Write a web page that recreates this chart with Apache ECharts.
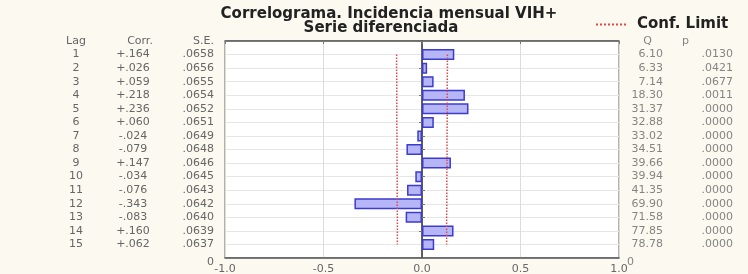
<!DOCTYPE html>
<html>
<head>
<meta charset="utf-8">
<script src="https://cdn.jsdelivr.net/npm/echarts@6/dist/echarts.min.js"></script>
<style>
  html, body { margin: 0; padding: 0; background: #fcf9f0; }
  #main { width: 748px; height: 274px; }
</style>
</head>
<body>
<div id="main"></div>
<script>
// datos del correlograma
var lags = ['1','2','3','4','5','6','7','8','9','10','11','12','13','14','15'];
var corr = [0.164, 0.026, 0.059, 0.218, 0.236, 0.060, -0.024, -0.079, 0.147, -0.034, -0.076, -0.343, -0.083, 0.160, 0.062];
var corrTxt = ['+.164','+.026','+.059','+.218','+.236','+.060','-.024','-.079','+.147','-.034','-.076','-.343','-.083','+.160','+.062'];
var seTxt = ['.0658','.0656','.0655','.0654','.0652','.0651','.0649','.0648','.0646','.0645','.0643','.0642','.0640','.0639','.0637'];
var qTxt = ['6.10','6.33','7.14','18.30','31.37','32.88','33.02','34.51','39.66','39.94','41.35','69.90','71.58','77.85','78.78'];
var pTxt = ['.0130','.0421','.0677','.0011','.0000','.0000','.0000','.0000','.0000','.0000','.0000','.0000','.0000','.0000','.0000'];
var limit = [0.129, 0.129, 0.128, 0.128, 0.128, 0.128, 0.127, 0.127, 0.127, 0.126, 0.126, 0.126, 0.125, 0.125, 0.125];

var myChart = echarts.init(document.getElementById('main'));

// eje y: fila 0 = cabecera, filas 1..15 = lags, fila 16 = "0"
var cats = ['h'].concat(lags).concat(['z']);
var barData = [null].concat(corr).concat([null]);
var upper = [], lower = [];
for (var i = 0; i < lags.length; i++) {
    upper.push([limit[i], i + 1]);
    lower.push([-limit[i], i + 1]);
}

var txtFont = { fontFamily: 'DejaVu Sans', fontSize: 11, color: '#666' };
var boldFont = { fontFamily: 'DejaVu Sans', fontSize: 15, fontWeight: 'bold', color: '#222' };

// columna de texto como eje categorico sin linea
function textCol(pos, offset, align, fmt, rich) {
    return {
        type: 'category', data: cats, inverse: true, boundaryGap: false,
        position: pos, offset: offset,
        axisLine: { show: false }, axisTick: { show: false }, splitLine: { show: false },
        axisLabel: Object.assign({ margin: 0, interval: 0, align: align, formatter: fmt, rich: rich || {} }, txtFont)
    };
}

// columna de texto a la derecha (Q, p): etiquetas de una serie invisible en x = 1
function rightCol(header, headerDx, texts, dx, extra) {
    var data = [{ value: [1, 0], txt: header, label: { offset: [headerDx, 0] } }];
    for (var k = 0; k < texts.length; k++) data.push({ value: [1, k + 1], txt: texts[k] });
    if (extra) data.push(extra);
    return {
        type: 'scatter', data: data, symbolSize: 0, silent: true, clip: false,
        label: Object.assign({
            show: true, position: 'inside', align: 'right', offset: [dx, 0],
            formatter: function (p) { return p.data.txt; }
        }, txtFont)
    };
}

var option = {
    backgroundColor: '#fcf9f0',
    animation: false,
    title: [
        { text: 'Correlograma. Incidencia mensual VIH+', left: 384, top: 2, textAlign: 'center', textStyle: boldFont },
        { text: 'Serie diferenciada', left: 376, top: 16, textAlign: 'center', textStyle: boldFont }
    ],
    legend: {
        left: 590, top: 12,
        itemWidth: 30, itemHeight: 8,
        data: ['Conf. Limit'],
        itemStyle: { opacity: 0 },
        textStyle: Object.assign({ padding: [0, 0, 0, 6] }, boldFont)
    },
    grid: {
        left: 225, right: 129, top: 41, bottom: 16,
        outerBoundsMode: 'none',
        show: true, backgroundColor: '#ffffff', borderColor: '#666', borderWidth: 1
    },
    xAxis: [{
        type: 'value', min: -1, max: 1, interval: 0.5,
        axisLine: { show: true, lineStyle: { color: '#555', width: 1.5 } },
        axisTick: { show: false },
        splitLine: { show: true, lineStyle: { color: '#dcdcdc' } },
        axisLabel: Object.assign({ margin: 6, formatter: function (v) { return v.toFixed(1); } }, txtFont)
    }, {
        type: 'value', min: -1, max: 1, interval: 0.5, position: 'top',
        axisLine: { show: true, lineStyle: { color: '#555', width: 1.5 } },
        axisTick: { show: true, inside: true, length: 3, lineStyle: { color: '#777' } },
        splitLine: { show: false },
        axisLabel: { show: false }
    }],
    yAxis: [{
        // S.E. + linea izquierda
        type: 'category', data: cats, inverse: true, boundaryGap: false,
        axisLine: { show: true, lineStyle: { color: '#555', width: 1.5 } },
        axisTick: { show: true, inside: true, length: 3, lineStyle: { color: '#777' } },
        splitLine: { show: true, lineStyle: { color: '#e6e6e6' } },
        axisLabel: Object.assign({
            margin: 11, interval: 0, align: 'right',
            formatter: function (v, idx) {
                if (idx === 0) return 'S.E.';
                if (idx === 16) return '{z|0}';
                return seTxt[idx - 1];
            },
            rich: { z: Object.assign({ padding: [8, 0, 0, 0] }, txtFont) }
        }, txtFont)
    }, {
        // linea derecha
        type: 'category', data: cats, inverse: true, boundaryGap: false, position: 'right',
        axisLine: { show: true, lineStyle: { color: '#555', width: 1.5 } },
        axisTick: { show: true, inside: true, length: 3, lineStyle: { color: '#777' } },
        axisLabel: { show: false }
    },
    textCol('left', 92, 'center', function (v, idx) {
        if (idx === 0) return '{h|Corr.}';
        if (idx === 16) return '';
        return corrTxt[idx - 1];
    }, { h: Object.assign({ padding: [0, 0, 0, 14] }, txtFont) }),
    textCol('left', 149, 'center', function (v, idx) {
        if (idx === 0) return 'Lag';
        if (idx === 16) return '';
        return lags[idx - 1];
    })
    ],
    series: [{
        type: 'bar',
        data: barData,
        barWidth: 11,
        itemStyle: { color: '#b6b6f6', borderColor: '#3b3bd0', borderWidth: 1.5 },
        z: 3
    }, {
        name: 'Conf. Limit', type: 'line', data: upper,
        symbol: 'none', z: 4,
        lineStyle: { color: '#e04848', width: 1.5, type: 'dotted' }, itemStyle: { color: '#e04848' }
    }, {
        name: 'Conf. Limit', type: 'line', data: lower,
        symbol: 'none', z: 4,
        lineStyle: { color: '#e04848', width: 1.5, type: 'dotted' }, itemStyle: { color: '#e04848' }
    },
    rightCol('Q', 33, qTxt, 44, { value: [1, 16], txt: '0', label: { offset: [15, 4] } }),
    rightCol('p', 70, pTxt, 114)
    ]
};

myChart.setOption(option);
</script>
</body>
</html>
